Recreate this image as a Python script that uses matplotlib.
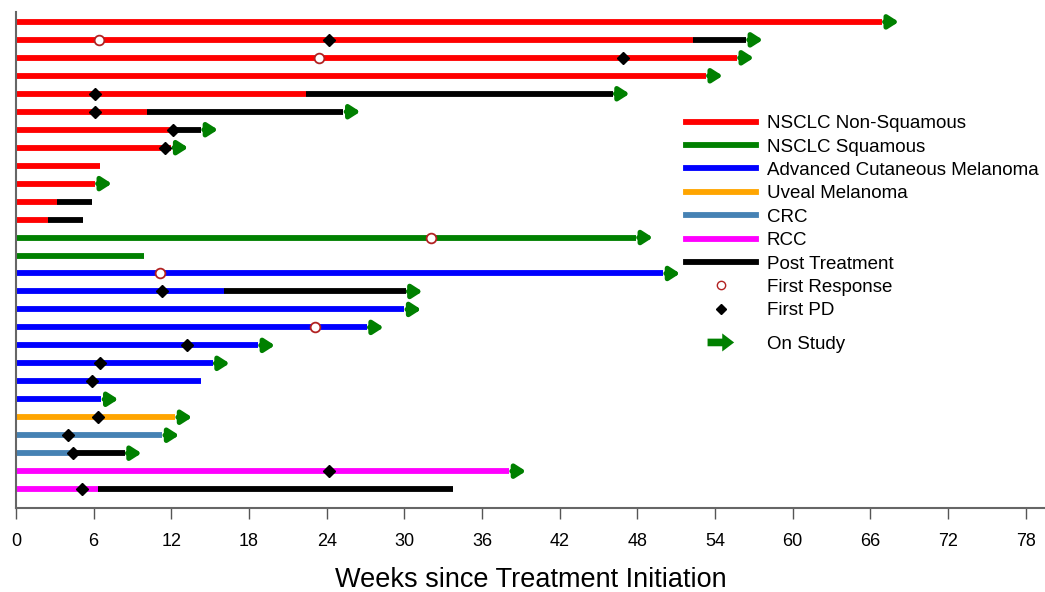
import matplotlib.pyplot as plt
from matplotlib.lines import Line2D
from matplotlib.patches import FancyArrow
from matplotlib.legend_handler import HandlerPatch

plt.rcParams['font.family'] = ['Liberation Sans', 'DejaVu Sans']

# one row per patient, top to bottom
tumor = ['NSCLC Non-Squamous'] * 12 + ['NSCLC Squamous'] * 2 + \
        ['Advanced Cutaneous Melanoma'] * 8 + ['Uveal Melanoma'] + ['CRC'] * 2 + ['RCC'] * 2
treat_end = [66.9, 52.3, 55.7, 53.3, 22.4, 10.1, 12.1, 12.0, 6.5, 6.1, 3.2, 2.5,
             47.9, 9.9,
             50.0, 16.1, 30.0, 27.1, 18.7, 15.2, 14.3, 6.6,
             12.3,
             11.3, 4.4,
             38.1, 6.3]
post_end = [None, 56.4, None, None, 46.1, 25.3, 14.3, None, None, None, 5.9, 5.2,
            None, None,
            None, 30.1, None, None, None, None, None, None,
            None,
            None, 8.4,
            None, 33.8]
first_resp = [None, 6.4, 23.4, None, None, None, None, None, None, None, None, None,
              32.1, None,
              11.1, None, None, 23.1, None, None, None, None,
              None,
              None, None,
              None, None]
first_pd = [None, 24.2, 46.9, None, 6.1, 6.1, 12.1, 11.5, None, None, None, None,
            None, None,
            None, 11.3, None, None, 13.2, 6.5, 5.9, None,
            6.3,
            4.0, 4.4,
            24.2, 5.1]
on_study = [1, 1, 1, 1, 1, 1, 1, 1, 0, 1, 0, 0,
            1, 0,
            1, 1, 1, 1, 1, 1, 0, 1,
            1,
            1, 1,
            1, 0]

colors = {'NSCLC Non-Squamous': '#ff0000',
          'NSCLC Squamous': '#008000',
          'Advanced Cutaneous Melanoma': '#0000ff',
          'Uveal Melanoma': '#ffa500',
          'CRC': '#4682b4',
          'RCC': '#ff00ff'}

xticks = list(range(0, 79, 6))

fig = plt.figure(figsize=(10.45, 5.92), dpi=100)
ax = fig.add_axes([16 / 1045, (592 - 508) / 592, 1 - 16 / 1045, (508 - 12) / 592])

n = len(tumor)
lw = 4.2
for i in range(n):
    y = n - i
    ax.plot([0, treat_end[i]], [y, y], color=colors[tumor[i]], lw=lw,
            solid_capstyle='butt', zorder=2)
    end = treat_end[i]
    if post_end[i] is not None:
        ax.plot([treat_end[i], post_end[i]], [y, y], color='black', lw=lw,
                solid_capstyle='butt', zorder=2)
        end = post_end[i]
    if on_study[i]:
        ax.annotate('', xy=(end + 1.3, y), xytext=(end + 0.2, y),
                    arrowprops=dict(arrowstyle='-|>,head_length=0.5,head_width=0.32',
                                    color='#008000', lw=3.5, mutation_scale=12,
                                    shrinkA=0, shrinkB=0), zorder=3)
    if first_resp[i] is not None:
        ax.plot(first_resp[i], y, 'o', ms=7, mfc='white', mec='#b22222', mew=1.3, zorder=4)
    if first_pd[i] is not None:
        ax.plot(first_pd[i], y, 'D', ms=6, color='black', zorder=4)

ax.set_xlim(0, 79.5)
ax.set_ylim(-0.05, n + 0.55)
ax.set_xticks(xticks)
ax.set_yticks([])
ax.tick_params(axis='x', length=8, width=1, color='#555555', labelsize=13, pad=10)
for s in ['top', 'right']:
    ax.spines[s].set_visible(False)
for s in ['left', 'bottom']:
    ax.spines[s].set_color('#666666')
    ax.spines[s].set_linewidth(1.5)
ax.set_xlabel('Weeks since Treatment Initiation', fontsize=19.5, labelpad=12)


def make_arrow(legend, orig_handle, xdescent, ydescent, width, height, fontsize):
    return FancyArrow(width * 0.31, height / 2, width * 0.38, 0, width=5.5,
                      head_width=13, head_length=width * 0.17,
                      length_includes_head=True, color='#008000', lw=0)


handles = [Line2D([], [], color=c, lw=4.2) for c in colors.values()]
labels = list(colors.keys())
handles += [Line2D([], [], color='black', lw=4.2),
            Line2D([], [], ls='', marker='o', ms=6, mfc='white', mec='#b22222'),
            Line2D([], [], ls='', marker='D', ms=5, color='black')]
labels += ['Post Treatment', 'First Response', 'First PD']
leg_kw = dict(loc='upper left', frameon=False, fontsize=13.5, handlelength=3.73,
              handletextpad=0.59, labelspacing=0.333, borderpad=0, borderaxespad=0)
leg = ax.legend(handles, labels, bbox_to_anchor=(0.651, 0.792), **leg_kw)
ax.add_artist(leg)
ax.legend([FancyArrow(0, 0, 1, 0, color='#008000', lw=0)], ['On Study'],
          bbox_to_anchor=(0.651, 0.347),
          handler_map={FancyArrow: HandlerPatch(patch_func=make_arrow)}, **leg_kw)

fig.savefig('out.png', dpi=100)
